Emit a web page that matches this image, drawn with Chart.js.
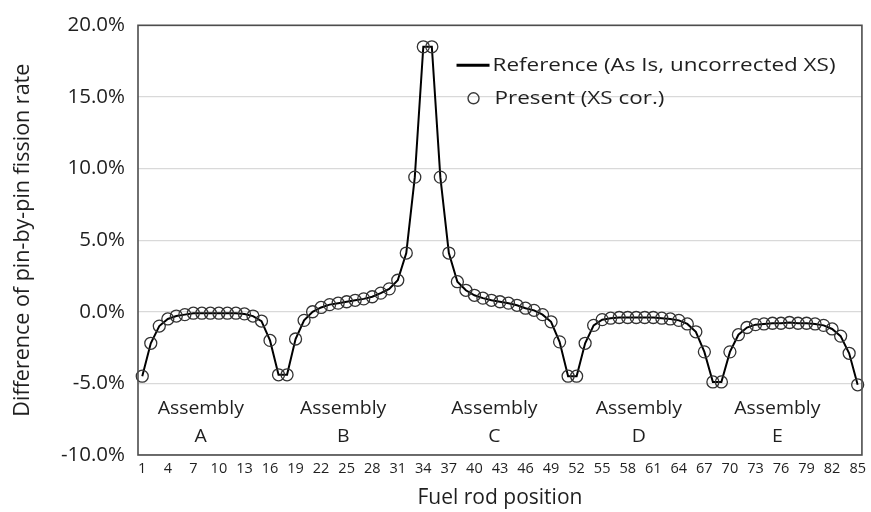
<!DOCTYPE html>
<html>
<head>
<meta charset="utf-8">
<title>Pin-by-pin fission rate difference</title>
<script src="https://cdn.jsdelivr.net/npm/chart.js@4.4.1/dist/chart.umd.min.js"></script>
<style>
  html, body { margin: 0; padding: 0; background: #ffffff; }
  #wrap { width: 871px; height: 512px; }
</style>
</head>
<body>
<div id="wrap"><canvas id="chart" width="871" height="512"></canvas></div>
<script>
// Fuel rod positions 1..85 across five assemblies (17 pins each)
const rodPositions = [
  1, 2, 3, 4, 5, 6, 7, 8, 9, 10, 11, 12, 13, 14, 15, 16, 17,
  18, 19, 20, 21, 22, 23, 24, 25, 26, 27, 28, 29, 30, 31, 32, 33, 34,
  35, 36, 37, 38, 39, 40, 41, 42, 43, 44, 45, 46, 47, 48, 49, 50, 51,
  52, 53, 54, 55, 56, 57, 58, 59, 60, 61, 62, 63, 64, 65, 66, 67, 68,
  69, 70, 71, 72, 73, 74, 75, 76, 77, 78, 79, 80, 81, 82, 83, 84, 85
];

// Difference of pin-by-pin fission rate (%), reference calculation
const referenceAsIs = [
  -4.5, -2.2, -1.0, -0.5, -0.3, -0.2, -0.1, -0.1, -0.1, -0.1, -0.1, -0.1, -0.15, -0.3, -0.65, -2.0, -4.4,
  -4.4, -1.9, -0.6, 0.0, 0.3, 0.5, 0.6, 0.7, 0.8, 0.9, 1.05, 1.3, 1.6, 2.2, 4.1, 9.4, 18.5,
  18.5, 9.4, 4.1, 2.1, 1.5, 1.15, 0.95, 0.8, 0.7, 0.6, 0.45, 0.25, 0.1, -0.2, -0.7, -2.1, -4.5,
  -4.5, -2.2, -0.95, -0.55, -0.45, -0.4, -0.4, -0.4, -0.4, -0.4, -0.45, -0.5, -0.6, -0.85, -1.4, -2.8, -4.9,
  -4.9, -2.8, -1.6, -1.1, -0.9, -0.85, -0.8, -0.8, -0.75, -0.8, -0.8, -0.85, -0.95, -1.2, -1.7, -2.9, -5.1
];

// Difference of pin-by-pin fission rate (%), present method with XS correction
const presentXsCor = [
  -4.5, -2.2, -1.0, -0.5, -0.3, -0.2, -0.1, -0.1, -0.1, -0.1, -0.1, -0.1, -0.15, -0.3, -0.65, -2.0, -4.4,
  -4.4, -1.9, -0.6, 0.0, 0.3, 0.5, 0.6, 0.7, 0.8, 0.9, 1.05, 1.3, 1.6, 2.2, 4.1, 9.4, 18.5,
  18.5, 9.4, 4.1, 2.1, 1.5, 1.15, 0.95, 0.8, 0.7, 0.6, 0.45, 0.25, 0.1, -0.2, -0.7, -2.1, -4.5,
  -4.5, -2.2, -0.95, -0.55, -0.45, -0.4, -0.4, -0.4, -0.4, -0.4, -0.45, -0.5, -0.6, -0.85, -1.4, -2.8, -4.9,
  -4.9, -2.8, -1.6, -1.1, -0.9, -0.85, -0.8, -0.8, -0.75, -0.8, -0.8, -0.85, -0.95, -1.2, -1.7, -2.9, -5.1
];

// Y axis ticks (%)
const yTicks = [-10, -5, 0, 5, 10, 15, 20];

// Assembly names written under the curve
const assemblyNames = ['A', 'B', 'C', 'D', 'E'];

const seriesNames = ['Reference (As Is, uncorrected XS)', 'Present (XS cor.)'];

const FONT = '"Open Sans", "Noto Sans", sans-serif';
const TEXT = '#1f1f1f';

// Box around the plotting area
const frame = {
  id: 'frame',
  afterDatasetsDraw(chart) {
    const { ctx, chartArea: a } = chart;
    ctx.save();
    ctx.strokeStyle = '#4d4d4d';
    ctx.lineWidth = 1.6;
    ctx.strokeRect(a.left, a.top, a.right - a.left, a.bottom - a.top);
    ctx.restore();
  }
};

// Text drawn slightly widened horizontally
function wideText(ctx, text, x, y, stretch) {
  ctx.save();
  ctx.translate(x, y);
  ctx.scale(stretch, 1);
  ctx.fillText(text, 0, 0);
  ctx.restore();
}

// Assembly labels and in-plot legend
const annotations = {
  id: 'annotations',
  afterDraw(chart) {
    const { ctx, chartArea: a, scales } = chart;
    const w = a.right - a.left;
    const fracs = [0.0867, 0.2834, 0.4924, 0.6919, 0.8831];
    ctx.save();
    ctx.fillStyle = TEXT;
    ctx.textAlign = 'center';
    ctx.textBaseline = 'middle';
    ctx.font = '18px ' + FONT;
    assemblyNames.forEach((name, i) => {
      const x = a.left + fracs[i] * w;
      wideText(ctx, 'Assembly', x, scales.y.getPixelForValue(-6.75), 1.08);
      wideText(ctx, name, x, scales.y.getPixelForValue(-8.75), 1.08);
    });

    // legend
    const lx = a.left + 0.440 * w;
    const y1 = a.top + 40;
    const y2 = a.top + 73;
    ctx.strokeStyle = '#000000';
    ctx.lineWidth = 3;
    ctx.beginPath();
    ctx.moveTo(lx, y1);
    ctx.lineTo(lx + 33, y1);
    ctx.stroke();
    ctx.strokeStyle = '#3a3a3a';
    ctx.lineWidth = 1.4;
    ctx.beginPath();
    ctx.arc(lx + 17, y2, 5.5, 0, Math.PI * 2);
    ctx.stroke();
    ctx.textAlign = 'left';
    ctx.font = '19px ' + FONT;
    const target = 343;
    const stretch = target / ctx.measureText(seriesNames[0]).width;
    wideText(ctx, seriesNames[0], lx + 36, y1, stretch);
    wideText(ctx, seriesNames[1], lx + 38, y2, stretch);
    ctx.restore();
  }
};

new Chart(document.getElementById('chart'), {
  type: 'line',
  data: {
    labels: rodPositions,
    datasets: [
      {
        label: seriesNames[0],
        data: referenceAsIs,
        borderColor: '#000000',
        borderWidth: 2,
        pointRadius: 0,
        tension: 0,
        fill: false,
        order: 2
      },
      {
        label: seriesNames[1],
        data: presentXsCor,
        showLine: false,
        pointStyle: 'circle',
        pointRadius: 6,
        pointBorderWidth: 1.3,
        pointBorderColor: '#333333',
        pointBackgroundColor: 'rgba(0,0,0,0)',
        order: 1
      }
    ]
  },
  options: {
    responsive: false,
    animation: false,
    layout: { padding: { top: 25, right: 6, left: 0, bottom: 0 } },
    plugins: {
      legend: { display: false },
      tooltip: { enabled: false }
    },
    scales: {
      x: {
        type: 'category',
        offset: true,
        grid: { display: false, drawTicks: false },
        border: { display: false },
        ticks: {
          autoSkip: false,
          maxRotation: 0,
          padding: 5,
          color: TEXT,
          font: { family: FONT, size: 14.5 },
          callback: (v, i) => (i % 3 === 0 ? rodPositions[i] : '')
        },
        title: {
          display: true,
          text: 'Fuel rod position',
          color: TEXT,
          font: { family: FONT, size: 21 },
          padding: { top: 4, bottom: 1 }
        },
        afterFit(scale) { scale.height = 57; }
      },
      y: {
        min: -10,
        max: 20,
        grid: { color: '#d9d9d9', lineWidth: 1.2, drawTicks: false },
        border: { display: false },
        afterBuildTicks(scale) { scale.ticks = yTicks.map(v => ({ value: v })); },
        ticks: {
          padding: 13,
          color: TEXT,
          font: { family: FONT, size: 20.5 },
          callback: v => v.toFixed(1) + '%'
        },
        title: {
          display: true,
          text: 'Difference of pin-by-pin fission rate',
          color: TEXT,
          font: { family: FONT, size: 21.5 },
          padding: { top: 10, bottom: 4 }
        },
        afterFit(scale) { scale.width = 138; }
      }
    }
  },
  plugins: [frame, annotations]
});
</script>
</body>
</html>
